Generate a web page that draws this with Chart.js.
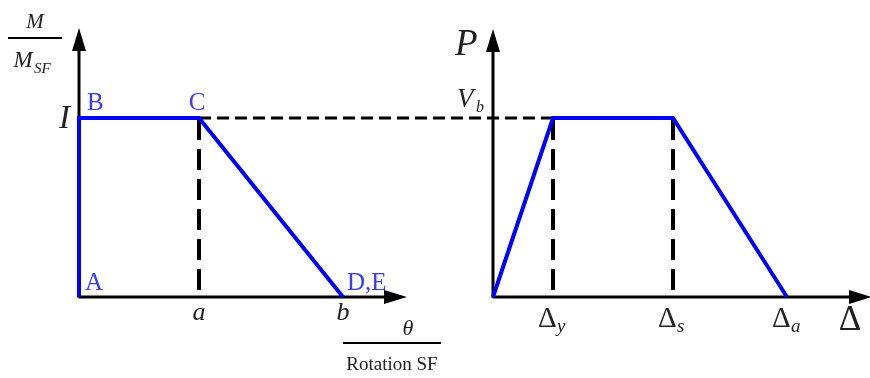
<!DOCTYPE html>
<html>
<head>
<meta charset="utf-8">
<script src="https://cdn.jsdelivr.net/npm/chart.js@4/dist/chart.umd.min.js"></script>
<style>
  body { margin: 0; background: #fff; }
  #wrap { width: 870px; height: 378px; }
</style>
</head>
<body>
<div id="wrap"><canvas id="chart"></canvas></div>
<script>
// Left diagram: normalised moment vs normalised rotation (units of a)
const momentTheta = [0, 0, 1, 2.2];
const momentRatio = [0, 1, 1, 0];
const momentPointLabels = ["A", "B", "C", "D,E"];
const momentTicks = [1, 2.2];
const momentTickLabels = ["a", "b"];

// Right diagram: load vs displacement (units of Δy)
const dispDelta = [0, 1, 3, 4.9];
const loadP = [0, 1, 1, 0];
const dispTicks = [1, 3, 4.9];
const dispTickSubs = ["y", "s", "a"];

const BLUE = "#0000ff";
const BLUE_TEXT = "#3a3aff";
const INK = "#222";
const SERIF = "'Liberation Serif', 'DejaVu Serif', serif";

function txt(ctx, s, x, y, font, color, align) {
    ctx.font = font;
    ctx.fillStyle = color;
    ctx.textAlign = align || "left";
    ctx.textBaseline = "alphabetic";
    ctx.fillText(s, x, y);
}

function line(ctx, x1, y1, x2, y2, width, dash) {
    ctx.beginPath();
    ctx.setLineDash(dash || []);
    ctx.lineWidth = width;
    ctx.strokeStyle = "#000";
    ctx.moveTo(x1, y1);
    ctx.lineTo(x2, y2);
    ctx.stroke();
    ctx.setLineDash([]);
}

function arrow(ctx, tx, ty, dir) {
    // dir: "up" or "right"
    ctx.beginPath();
    ctx.fillStyle = "#000";
    if (dir === "up") {
        ctx.moveTo(tx, ty);
        ctx.lineTo(tx - 7, ty + 23);
        ctx.lineTo(tx + 7, ty + 23);
    } else {
        ctx.moveTo(tx, ty);
        ctx.lineTo(tx - 23, ty - 7);
        ctx.lineTo(tx - 23, ty + 7);
    }
    ctx.closePath();
    ctx.fill();
}

const diagramPlugin = {
    id: "diagram",
    beforeDatasetsDraw(chart) {
        const ctx = chart.ctx;
        const xl = chart.scales.xl, xr = chart.scales.xr, y = chart.scales.y;
        const y0 = y.getPixelForValue(0), y1 = y.getPixelForValue(1);
        const lo = xl.getPixelForValue(0), ro = xr.getPixelForValue(0);
        ctx.save();
        // axes
        line(ctx, lo, y0 + 1, lo, 45, 3);
        arrow(ctx, lo, 28, "up");
        line(ctx, lo, y0, 390, y0, 3);
        arrow(ctx, 407, y0, "right");
        line(ctx, ro, y0 + 1, ro, 45, 3);
        arrow(ctx, ro, 29, "up");
        line(ctx, ro, y0, 855, y0, 3);
        arrow(ctx, 872, y0, "right");
        // dashed guides
        const cx = xl.getPixelForValue(momentTheta[2]);
        const vx = xr.getPixelForValue(dispDelta[1]);
        line(ctx, cx, y1, vx, y1, 3, [12, 6]);
        [cx, vx, xr.getPixelForValue(dispDelta[2])].forEach((px) => {
            line(ctx, px, y0 - 7, px, y1, 4, [21, 9]);
        });
        ctx.restore();
    },
    afterDatasetsDraw(chart) {
        const ctx = chart.ctx;
        const xl = chart.scales.xl, xr = chart.scales.xr, y = chart.scales.y;
        const y0 = y.getPixelForValue(0), y1 = y.getPixelForValue(1);
        const ro = xr.getPixelForValue(0);
        ctx.save();

        // point labels on left diagram
        const pl = momentTheta.map((t) => xl.getPixelForValue(t));
        const lf = "25px " + SERIF;
        txt(ctx, momentPointLabels[0], pl[0] + 6, y0 - 7, lf, BLUE_TEXT);
        txt(ctx, momentPointLabels[1], pl[1] + 8, y1 - 8, lf, BLUE_TEXT);
        txt(ctx, momentPointLabels[2], pl[2] - 2, y1 - 8, lf, BLUE_TEXT, "center");
        txt(ctx, momentPointLabels[3], pl[3] + 4, y0 - 7, lf, BLUE_TEXT);

        // tick labels
        momentTicks.forEach((t, i) => {
            txt(ctx, momentTickLabels[i], xl.getPixelForValue(t), y0 + 23, "italic 26px " + SERIF, INK, "center");
        });
        dispTicks.forEach((t, i) => {
            const px = xr.getPixelForValue(t);
            txt(ctx, "Δ", px - 15, y0 + 30, "29px " + SERIF, INK);
            txt(ctx, dispTickSubs[i], px + 4, y0 + 35, "italic 19px " + SERIF, INK);
        });
        txt(ctx, "I", xl.getPixelForValue(0) - 9, y1 + 10, "italic 33px " + SERIF, INK, "right");
        txt(ctx, "V", ro - 36, y1 - 11, "italic 27px " + SERIF, INK);
        txt(ctx, "b", ro - 17, y1 - 6, "italic 16px " + SERIF, INK);

        // axis titles
        txt(ctx, "M", 35, 28, "italic 21px " + SERIF, INK, "center");
        line(ctx, 8, 38, 62, 38, 2);
        txt(ctx, "M", 23, 67, "italic 23px " + SERIF, INK, "center");
        txt(ctx, "SF", 34, 73, "italic 15px " + SERIF, INK);

        txt(ctx, "θ", 408, 335, "italic 22px " + SERIF, INK, "center");
        line(ctx, 343, 343, 441, 343, 2);
        txt(ctx, "Rotation SF", 392, 370, "19px " + SERIF, INK, "center");

        txt(ctx, "P", 455, 55, "italic 37px " + SERIF, INK);
        txt(ctx, "Δ", 850, 330, "35px " + SERIF, INK, "center");
        ctx.restore();
    },
};

const ctx = document.getElementById("chart").getContext("2d");
new Chart(ctx, {
    type: "scatter",
    data: {
        datasets: [
            {
                data: momentTheta.map((t, i) => ({ x: t, y: momentRatio[i] })),
                xAxisID: "xl",
                showLine: true,
                borderColor: BLUE,
                borderWidth: 4,
                borderJoinStyle: "miter",
                pointRadius: 0,
            },
            {
                data: dispDelta.map((d, i) => ({ x: d, y: loadP[i] })),
                xAxisID: "xr",
                showLine: true,
                borderColor: BLUE,
                borderWidth: 4,
                borderJoinStyle: "miter",
                pointRadius: 0,
            },
        ],
    },
    options: {
        responsive: true,
        maintainAspectRatio: false,
        animation: false,
        layout: { padding: 0 },
        plugins: { legend: { display: false }, tooltip: { enabled: false } },
        scales: {
            // origin of left diagram at 79px, a = 120px
            xl: { type: "linear", display: false, min: -79 / 120, max: 791 / 120 },
            // origin of right diagram at 493px, Δy = 60px
            xr: { type: "linear", display: false, min: -493 / 60, max: 377 / 60 },
            // origin at 297px, unit = 179px
            y: { type: "linear", display: false, min: -81 / 179, max: 297 / 179 },
        },
    },
    plugins: [diagramPlugin],
});
</script>
</body>
</html>
